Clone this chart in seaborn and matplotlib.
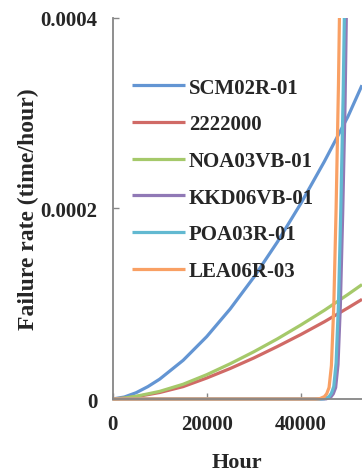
import pandas as pd
import seaborn as sns
import matplotlib.pyplot as plt
from matplotlib.transforms import Bbox, TransformedBbox

# Series names as in the legend (drawing order = legend order)
series_names = ["SCM02R-01", "2222000", "NOA03VB-01", "KKD06VB-01", "POA03R-01", "LEA06R-03"]
series_colors = ["#6395D3", "#D06A66", "#A5C96A", "#9079B6", "#62B9D1", "#F9A064"]

# Slowly rising curves
hours_smooth = [0, 2500, 5000, 7500, 10000, 15000, 20000, 25000, 30000, 35000, 40000, 45000, 50000, 53000]
scm02r_01 = [0, 2.1e-6, 6.6e-6, 1.3e-5, 2.08e-5, 4.06e-5, 6.54e-5, 9.45e-5, 1.276e-4, 1.645e-4, 2.05e-4, 2.49e-4, 2.96e-4, 3.29e-4]
r2222000 = [0, 0.9e-6, 2.5e-6, 4.6e-6, 6.8e-6, 1.3e-5, 2.2e-5, 3.2e-5, 4.3e-5, 5.5e-5, 6.76e-5, 8.1e-5, 9.55e-5, 1.045e-4]
noa03vb_01 = [0, 1.0e-6, 2.9e-6, 5.4e-6, 8.0e-6, 1.55e-5, 2.55e-5, 3.7e-5, 4.95e-5, 6.3e-5, 7.76e-5, 9.3e-5, 1.096e-4, 1.20e-4]

# Steep wear-out curves
hours_kkd = [0, 44400, 45400, 46400, 46900, 47400, 47900, 48400, 48900, 49400, 49900]
kkd06vb_01 = [0, 0, 2e-7, 2.2e-6, 5.5e-6, 1.2e-5, 3.6e-5, 9.8e-5, 1.95e-4, 3.1e-4, 4.8e-4]
hours_poa = [0, 44000, 45000, 46000, 46500, 47000, 47500, 48000, 48500, 49000, 49500]
poa03r_01 = [0, 0, 3e-7, 2.5e-6, 6e-6, 1.3e-5, 3.8e-5, 1.0e-4, 2.0e-4, 3.2e-4, 4.8e-4]
hours_lea = [0, 43000, 44000, 45000, 45500, 46000, 46500, 47000, 47500, 48000, 48500]
lea06r_03 = [0, 0, 3e-7, 2.5e-6, 5.5e-6, 1.2e-5, 3.5e-5, 9.7e-5, 2.0e-4, 3.3e-4, 5.0e-4]

x_ticks = [0, 20000, 40000]
y_ticks = [0, 0.0002, 0.0004]
y_tick_labels = ["0", "0.0002", "0.0004"]

frames = []
for name, xs, ys in [
    ("SCM02R-01", hours_smooth, scm02r_01),
    ("2222000", hours_smooth, r2222000),
    ("NOA03VB-01", hours_smooth, noa03vb_01),
    ("KKD06VB-01", hours_kkd, kkd06vb_01),
    ("POA03R-01", hours_poa, poa03r_01),
    ("LEA06R-03", hours_lea, lea06r_03),
]:
    frames.append(pd.DataFrame({"Hour": xs, "Rate": ys, "Part": name}))
df = pd.concat(frames, ignore_index=True)

sns.set_theme(style="white")
plt.rcParams['font.family'] = ['Liberation Serif', 'DejaVu Serif']
plt.rcParams['font.weight'] = 'bold'

fig = plt.figure(figsize=(3.62, 4.77), dpi=100)
ax = fig.add_axes([0.311, 0.1614, 0.689, 0.7998])

sns.lineplot(
    data=df, x="Hour", y="Rate", hue="Part",
    hue_order=series_names, palette=dict(zip(series_names, series_colors)),
    estimator=None, sort=False, linewidth=2.3, ax=ax,
)

# let lines on the axes edges show full width
clip = TransformedBbox(Bbox([[-0.03, -0.03], [1.0, 1.0]]), ax.transAxes)
for ln in ax.lines:
    ln.set_clip_box(clip)
    ln.set_solid_capstyle('butt')
    ln.set_solid_joinstyle('round')

ax.set_xlim(0, 53000)
ax.set_ylim(0, 0.0004)
ax.set_xticks(x_ticks)
ax.set_xticklabels([str(t) for t in x_ticks])
ax.set_yticks(y_ticks)
ax.set_yticklabels(y_tick_labels)

for side in ["top", "right"]:
    ax.spines[side].set_visible(False)
for side in ["left", "bottom"]:
    ax.spines[side].set_color("#868686")
    ax.spines[side].set_linewidth(1.3)

ax.tick_params(axis="both", direction="in", length=4, width=1, color="#868686",
               labelsize=15, pad=11, left=True, bottom=True)

ax.set_xlabel("Hour", fontsize=16, fontweight="bold", labelpad=13)
ax.set_ylabel("Failure rate (time/hour)", fontsize=17, fontweight="bold", labelpad=1)

ax.legend(
    loc="upper left", bbox_to_anchor=(0.077, 0.842), frameon=False,
    fontsize=15, handlelength=2.55, handletextpad=0.2, labelspacing=0.8,
    borderpad=0, borderaxespad=0,
)
for ln in ax.get_legend().get_lines():
    ln.set_linewidth(2.3)

fig.savefig("out.png", dpi=100)
